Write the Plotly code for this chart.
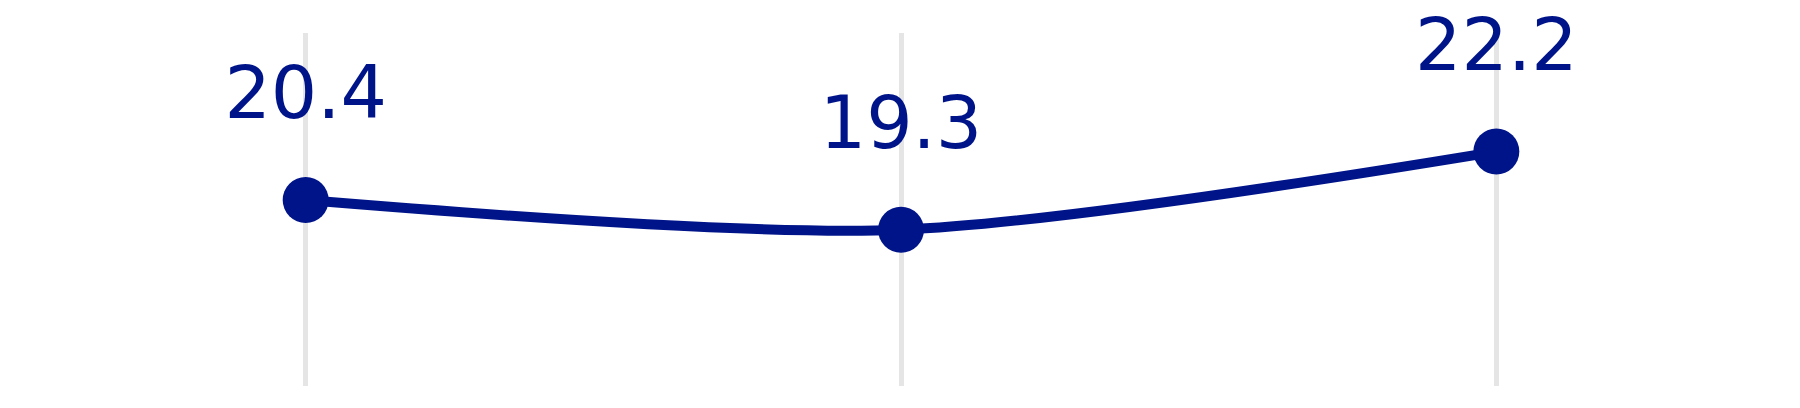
import plotly.graph_objects as go

# data
years = ['2019', '2020', '2021']
values = [20.4, 19.3, 22.2]
labels = ['20.4', '19.3', '22.2']

blue = '#001489'

fig = go.Figure()
fig.add_trace(go.Scatter(x=years, y=values, mode='lines+markers',
                         line=dict(color=blue, width=10, shape='spline', smoothing=0.8),
                         marker=dict(color=blue, size=46),
                         showlegend=False, hoverinfo='skip'))

# value labels: invisible big markers push the text up above the dots
fig.add_trace(go.Scatter(x=years, y=values, mode='markers+text', text=labels,
                         textposition='top center', cliponaxis=False,
                         textfont=dict(family='DejaVu Sans', size=73, color=blue),
                         marker=dict(size=100, opacity=0),
                         showlegend=False, hoverinfo='skip'))

fig.update_xaxes(type='category', range=[-0.5, 2.5], showgrid=True,
                 gridcolor='#e5e5e5', gridwidth=5, showticklabels=False,
                 zeroline=False, showline=False, ticks='')
fig.update_yaxes(range=[13.5, 26.6], showgrid=False, showticklabels=False,
                 zeroline=False, showline=False)
fig.update_layout(width=1800, height=408, plot_bgcolor='white', paper_bgcolor='white',
                  margin=dict(l=0, r=14, t=25, b=30))
fig.write_html("out.html")
